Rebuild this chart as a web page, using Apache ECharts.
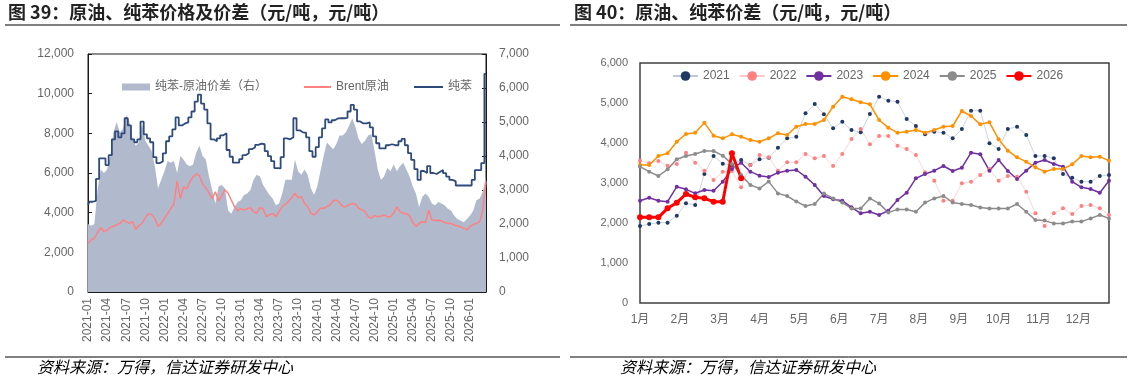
<!DOCTYPE html>
<html><head><meta charset="utf-8">
<script src="https://cdn.jsdelivr.net/npm/echarts@6/dist/echarts.min.js"></script>
<style>html,body{margin:0;padding:0;background:#fff}#c{width:1132px;height:381px}</style>
</head><body><div id="c"></div>
<script>
// ---------- Figure 39 (half-month samples from 2021-01) ----------
const benzene = [4400,4550,4600,5700,6740,6740,6400,6900,7700,8100,
 7800,8000,8760,8400,7700,7550,7700,8590,7950,7750,
 7550,6800,6500,6580,6990,7600,7850,8200,8800,8400,
 8500,8550,8800,9100,9600,9950,9500,9200,8500,7700,
 7600,7750,7900,8000,7160,6820,6520,6520,6700,6900,
 7000,7200,7300,7420,7480,7450,7100,6850,6600,6250,
 6230,6800,7750,7700,7800,8760,8150,8050,8030,7800,
 7100,6820,7300,7800,8250,8700,8550,8660,8750,8760,
 8760,8780,9100,9430,9200,8600,8500,8500,8550,8300,
 7850,7500,7240,7240,7400,7450,7400,7400,7600,7720,
 7400,7000,6660,6200,5650,6100,6000,6350,6000,5950,
 6050,6150,5990,5820,5650,5580,5370,5370,5370,5370,
 5370,5650,6150,6150,6500,11000];
const brent = [2450,2630,2710,3000,3250,3050,3120,3250,3320,3380,
 3460,3630,3550,3460,3550,3150,3350,3460,3750,3950,
 3900,3700,3300,3460,3720,3950,4200,4450,5600,4700,
 5300,5200,5550,5800,5950,5850,5450,5250,5000,4700,
 5050,4600,4850,5150,4980,4640,4310,4100,4200,4140,
 4200,4250,4050,3970,4250,4200,3800,3900,3950,3800,
 4050,4300,4420,4560,4750,4980,4750,4810,4470,4310,
 3970,3880,4050,4220,4220,4300,4390,4600,4640,4500,
 4310,4300,4400,4470,4420,4220,4150,4050,3800,3720,
 3850,3800,3820,3880,3800,3800,3970,4300,4050,3970,
 3950,3850,3500,3300,3460,3540,3500,4130,3630,3600,
 3620,3600,3500,3460,3460,3380,3330,3290,3210,3130,
 3300,3400,3460,3550,4130,5580];
const spread = [2000,1950,2000,3000,3600,3500,3600,4000,4700,5000,
 4700,4800,5200,5000,4500,4300,4400,4950,4450,4300,
 4150,3700,3050,3300,3550,3850,3800,3850,3500,4000,
 3900,3750,3700,3750,4100,4300,4000,3900,3400,3000,
 2600,3100,3150,3050,2400,2300,2500,2650,2700,2850,
 2900,3000,3300,3450,3400,3150,3000,2850,2750,2550,
 2600,2900,3300,3300,3300,3900,3550,3450,3600,3450,
 3050,2850,3100,3550,4000,4400,4300,4200,4350,4600,
 4600,4700,4900,5100,4850,4500,4350,4450,4600,4650,
 4150,3600,3300,3400,3650,3550,3750,3550,3700,3800,
 3600,3400,3100,2900,2500,2800,2900,2800,2600,2550,
 2650,2600,2550,2450,2400,2250,2150,2100,2050,2150,
 2250,2400,2700,2750,2950,3400];

// ---------- Figure 40 (weekly, 52 weeks) ----------
const monthLabels = ['1月','2月','3月','4月','5月','6月','7月','8月','9月','10月','11月','12月'];
const y2021 = [1925,1975,2008,2008,2183,2492,2450,3225,3675,3480,
 3450,3575,3450,3592,3633,3883,4117,4158,4742,4975,
 4717,4367,4533,4325,4267,4725,5158,5058,5033,4600,
 4425,4217,4283,4258,4117,4350,4808,4808,3992,3850,
 4350,4408,4200,3675,3675,3617,3225,3133,3033,3033,
 3175,3200];
const y2022 = [3558,3492,3550,3433,3475,3758,3508,3308,3075,3283,
 3300,2892,3450,3700,3642,3308,3517,3517,3725,3617,
 3675,3425,3725,4100,4350,3967,4175,4175,3933,3850,
 3700,3267,3058,2558,2558,2992,3033,3200,3350,3058,
 3175,3158,2783,2242,1925,2242,2367,2225,2425,2450,
 2367,2200];
const y2023 = [2558,2633,2558,2533,2908,2842,2742,2825,2808,3033,
 3350,3508,3283,3183,3150,3258,3308,3325,3158,2950,
 2675,2592,2558,2392,2242,2283,2200,2308,2575,2758,
 3117,3225,3308,3425,3300,3383,3758,3717,3308,3575,
 3300,3100,3308,3508,3575,3475,3408,3033,2892,2850,
 2758,3058];
const y2024 = [3450,3450,3675,3742,4033,4225,4258,4508,4183,4117,
 4217,4158,4075,4033,4117,4242,4200,4408,4475,4475,
 4575,4908,5158,5092,5017,4967,4575,4383,4258,4283,
 4325,4258,4325,4408,4425,4800,4675,4467,4517,4092,
 3808,3642,3533,3392,3283,3350,3350,3467,3675,3642,
 3658,3558];
const y2025 = [3408,3283,3175,3342,3592,3675,3725,3800,3800,3683,
 3475,3200,2950,2865,3035,2740,2675,2535,2425,2475,
 2740,2615,2510,2365,2365,2615,2490,2260,2340,2340,
 2280,2510,2615,2675,2515,2475,2450,2390,2365,2365,
 2365,2475,2280,2075,2060,1990,1990,2035,2035,2115,
 2200,2115];
const y2026 = [2142,2142,2142,2367,2508,2725,2642,2617,2533,2533,3742,3117];

const FONT = '"Liberation Sans","Noto Sans CJK SC",sans-serif';
const CJK = '"Noto Sans CJK SC",sans-serif';
const cats = [];
for (let i = 0; i < benzene.length; i++) {
  const m = Math.floor(i / 2);
  const yr = 2021 + Math.floor(m / 12);
  const mm = String(m % 12 + 1).padStart(2, '0');
  cats.push(yr + '-' + mm + (i % 2 ? '-16' : '-01'));
}
const pairs = arr => arr.map((v, i) => [i, v]);
const fmt = v => v.toLocaleString('en-US');
const WK = 52 / 12;

const chart = echarts.init(document.getElementById('c'), null, {renderer: 'canvas'});
const lbl = {color: '#666', fontSize: 12, fontFamily: FONT};
const yr = (name, arr, lineColor, dotColor, width, size) => ({
  name, type: 'line', xAxisIndex: 1, yAxisIndex: 2, data: pairs(arr),
  symbol: 'circle', symbolSize: size, showSymbol: true,
  lineStyle: {color: lineColor, width}, itemStyle: {color: dotColor}
});
const legText = {color: '#666', fontSize: 12, fontFamily: FONT};
chart.setOption({
  animation: false,
  textStyle: {fontFamily: FONT},
  grid: [
    {left: 88, top: 54, width: 398, height: 238, show: true, borderColor: '#1a1a1a', borderWidth: 1, outerBoundsMode: 'none'},
    {left: 640, top: 63, width: 469, height: 240, show: true, borderColor: '#404040', borderWidth: 1.5, outerBoundsMode: 'none'}
  ],
  xAxis: [
    {gridIndex: 0, type: 'category', data: cats, boundaryGap: false,
     axisLine: {lineStyle: {color: '#1a1a1a'}},
     axisTick: {interval: 5, inside: true, length: 4, lineStyle: {color: '#1a1a1a'}},
     axisLabel: Object.assign({interval: 5, rotate: 90, margin: 6, formatter: v => v.slice(0, 7)}, lbl)},
    {gridIndex: 1, type: 'value', min: 0, max: 51, interval: WK,
     axisLine: {show: false}, axisTick: {show: false}, splitLine: {show: false},
     axisLabel: Object.assign({margin: 11, showMaxLabel: false, hideOverlap: false,
       formatter: v => { const k = Math.round(v / WK); return (k < 12 && Math.abs(v - k * WK) < 0.01) ? monthLabels[k] : ''; }}, lbl)}
  ],
  yAxis: [
    {gridIndex: 0, min: 0, max: 12000, interval: 2000,
     axisLine: {show: true, lineStyle: {color: '#1a1a1a'}},
     axisTick: {show: true, inside: true, length: 4, lineStyle: {color: '#1a1a1a'}},
     splitLine: {show: false}, axisLabel: Object.assign({margin: 14, formatter: fmt}, lbl)},
    {gridIndex: 0, position: 'right', min: 0, max: 7000, interval: 1000,
     axisLine: {show: true, lineStyle: {color: '#1a1a1a'}},
     axisTick: {show: true, inside: true, length: 4, lineStyle: {color: '#1a1a1a'}},
     splitLine: {show: false}, axisLabel: Object.assign({margin: 13, formatter: fmt}, lbl)},
    {gridIndex: 1, min: 0, max: 6000, interval: 1000,
     axisLine: {show: false}, axisTick: {show: false}, splitLine: {show: false},
     axisLabel: Object.assign({margin: 12, formatter: fmt}, lbl, {fontSize: 11})}
  ],
  legend: [
    {data: ['纯苯-原油价差（右）'], left: 117, top: 76, itemWidth: 28, itemHeight: 7, icon: 'rect', textStyle: legText},
    {data: ['Brent原油'], left: 299, top: 76, itemWidth: 27, itemHeight: 2, icon: 'rect', textStyle: legText},
    {data: ['纯苯'], left: 409, top: 76, itemWidth: 29, itemHeight: 2, icon: 'rect', textStyle: legText},
    {data: ['2021', '2022', '2023', '2024', '2025', '2026'], left: 667, top: 65, itemWidth: 25, itemHeight: 12, itemGap: 9, textStyle: legText}
  ],
  series: [
    {name: '纯苯-原油价差（右）', type: 'line', xAxisIndex: 0, yAxisIndex: 1, data: spread,
     symbol: 'none', lineStyle: {width: 0}, itemStyle: {color: '#B0BACC'},
     areaStyle: {color: '#B0BACC', opacity: 1}, z: 1},
    {name: 'Brent原油', type: 'line', xAxisIndex: 0, yAxisIndex: 0, data: brent,
     symbol: 'none', lineStyle: {color: '#FF8080', width: 1.5}, itemStyle: {color: '#FF8080'}, z: 3},
    {name: '纯苯', type: 'line', xAxisIndex: 0, yAxisIndex: 0, data: benzene, step: 'middle',
     symbol: 'none', lineStyle: {color: '#2F4B7C', width: 1.8}, itemStyle: {color: '#2F4B7C'}, z: 4},
    yr('2021', y2021, '#BFC8DA', '#203864', 0.8, 4),
    yr('2022', y2022, '#FFC9C9', '#FF8080', 0.8, 4),
    yr('2023', y2023, '#7030A0', '#7030A0', 1.5, 4),
    yr('2024', y2024, '#FF9000', '#FF9000', 1.5, 4),
    yr('2025', y2025, '#8C8C8C', '#8C8C8C', 1.5, 4),
    yr('2026', y2026, '#FF0000', '#FF0000', 3, 6)
  ],
  graphic: [
    {type: 'text', left: 8, top: 3, style: {text: '图 39：原油、纯苯价格及价差（元/吨，元/吨）', fontSize: 18, fontWeight: 'bold', fontFamily: CJK, fill: '#222'}},
    {type: 'line', shape: {x1: 5, y1: 25, x2: 560, y2: 25}, style: {stroke: '#7F7F7F', lineWidth: 2}},
    {type: 'text', left: 574, top: 3, style: {text: '图 40：原油、纯苯价差（元/吨，元/吨）', fontSize: 18, fontWeight: 'bold', fontFamily: CJK, fill: '#222'}},
    {type: 'line', shape: {x1: 570, y1: 25, x2: 1127, y2: 25}, style: {stroke: '#7F7F7F', lineWidth: 2}},
    {type: 'line', shape: {x1: 5, y1: 357, x2: 560, y2: 357}, style: {stroke: '#000', lineWidth: 1}},
    {type: 'line', shape: {x1: 570, y1: 357, x2: 1127, y2: 357}, style: {stroke: '#000', lineWidth: 1}},
    {type: 'text', left: 37, top: 359, style: {text: '资料来源：万得，信达证券研发中心', fontSize: 16, fontStyle: 'italic', fontFamily: CJK, fill: '#000'}},
    {type: 'text', left: 620, top: 359, style: {text: '资料来源：万得，信达证券研发中心', fontSize: 16, fontStyle: 'italic', fontFamily: CJK, fill: '#000'}}
  ]
});
</script></body></html>
